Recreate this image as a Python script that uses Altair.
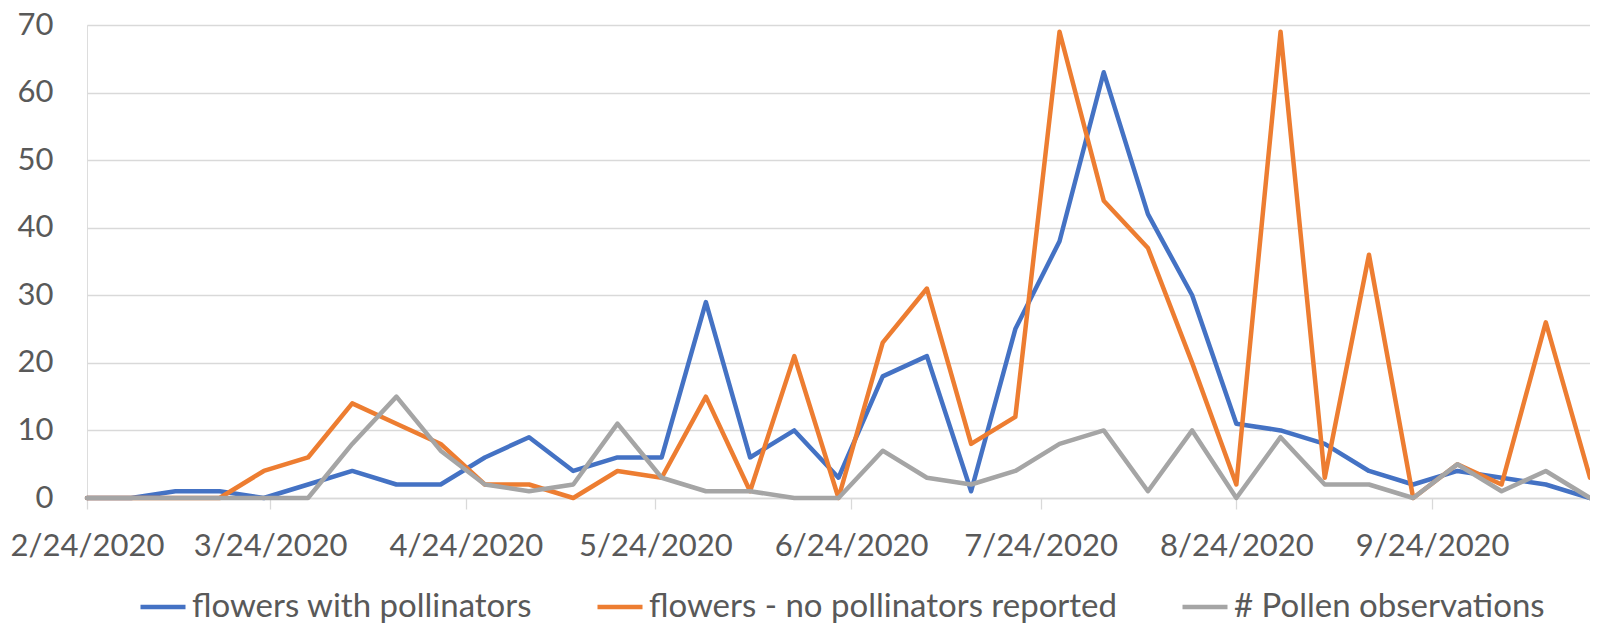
import altair as alt
import pandas as pd

# Weekly dates, 2/24/2020 .. 10/19/2020
dates = pd.date_range("2020-02-24", periods=35, freq="7D").strftime("%Y-%m-%d").tolist()

series_names = ["flowers with pollinators", "flowers - no pollinators reported", "# Pollen observations"]
series_colors = ["#4472C4", "#ED7D31", "#A5A5A5"]

with_pollinators = [0, 0, 1, 1, 0, 2, 4, 2, 2, 6, 9, 4, 6, 6, 29, 6, 10, 3, 18, 21,
                    1, 25, 38, 63, 42, 30, 11, 10, 8, 4, 2, 4, 3, 2, 0]
no_pollinators = [0, 0, 0, 0, 4, 6, 14, 11, 8, 2, 2, 0, 4, 3, 15, 1, 21, 0, 23, 31,
                  8, 12, 69, 44, 37, 20, 2, 69, 3, 36, 0, 5, 2, 26, 3]
pollen_obs = [0, 0, 0, 0, 0, 0, 8, 15, 7, 2, 1, 2, 11, 3, 1, 1, 0, 0, 7, 3,
              2, 4, 8, 10, 1, 10, 0, 9, 2, 2, 0, 5, 1, 4, 0]

y_ticks = [0, 10, 20, 30, 40, 50, 60, 70]
x_tick_months = [2, 3, 4, 5, 6, 7, 8, 9]

rows = []
for name, vals in zip(series_names, [with_pollinators, no_pollinators, pollen_obs]):
    for d, v in zip(dates, vals):
        rows.append({"date": d, "value": v, "series": name})
df = pd.DataFrame(rows)

FONT = "Lato"
TXT = "#595959"
GRID = "#d9d9d9"

x_enc = alt.X(
    "date:T",
    scale=alt.Scale(
        type="utc",
        domain=[alt.DateTime(year=2020, month=2, date=24, utc=True),
                alt.DateTime(year=2020, month=10, date=19, utc=True)],
    ),
    axis=alt.Axis(
        title=None,
        grid=False,
        values=[alt.DateTime(year=2020, month=m, date=24, utc=True) for m in x_tick_months],
        labelExpr="utcFormat(datum.value, '%-m/%-d/%Y')",
        domainColor=GRID,
        domainWidth=1.3,
        tickColor=GRID,
        tickWidth=1.3,
        tickSize=11,
        labelFont=FONT,
        labelFontSize=31,
        labelColor=TXT,
        labelPadding=22,
        labelFlush=False,
        labelOverlap=False,
    ),
)

y_enc = alt.Y(
    "value:Q",
    scale=alt.Scale(domain=[0, 70], nice=False),
    axis=alt.Axis(
        title=None,
        values=y_ticks,
        domain=False,
        ticks=False,
        grid=True,
        gridColor=GRID,
        gridWidth=1.3,
        labelFont=FONT,
        labelFontSize=31,
        labelColor=TXT,
        labelPadding=34,
    ),
)

color_enc = alt.Color(
    "series:N",
    scale=alt.Scale(domain=series_names, range=series_colors),
    legend=alt.Legend(
        title=None,
        orient="none",
        legendX=51,
        legendY=557,
        direction="horizontal",
        symbolType="stroke",
        symbolSize=2025,
        symbolStrokeWidth=4.5,
        labelFont=FONT,
        labelFontSize=33,
        labelColor=TXT,
        labelOffset=4,
        labelLimit=1000,
        columnPadding=55,
        padding=0,
    ),
)

layers = []
for name in series_names:
    layers.append(
        alt.Chart(df)
        .transform_filter(alt.datum.series == name)
        .mark_line(strokeWidth=4.5, strokeJoin="round", strokeCap="round")
        .encode(x=x_enc, y=y_enc, color=color_enc)
    )

chart = (
    alt.layer(*layers)
    .properties(
        width=1503,
        height=473,
        autosize=alt.AutoSizeParams(type="none"),
        padding={"left": 79, "top": 17, "right": 0, "bottom": 126},
    )
    .configure_view(stroke=None)
    .configure(background="white")
)

chart.save("out.html", embed_options={"renderer": "svg", "actions": False})
